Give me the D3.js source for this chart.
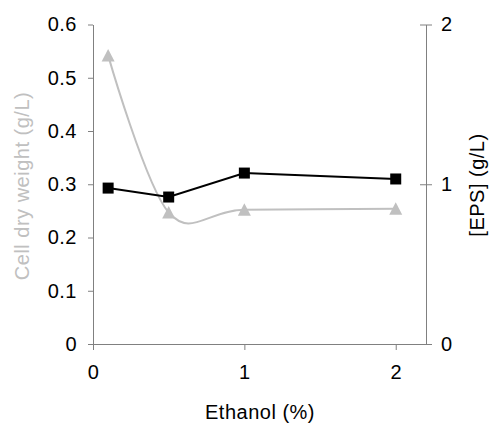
<!DOCTYPE html>
<html>
<head>
<meta charset="utf-8">
<script src="https://cdn.jsdelivr.net/npm/d3@7"></script>
<style>
    body { margin: 0; background: #fff; }
    svg { display: block; font-family: "Liberation Sans", Arial, sans-serif; }
</style>
</head>
<body>
<svg id="chart" width="490" height="426"></svg>
<script>
// ethanol concentration (%)
const ethanol = [0.1, 0.5, 1, 2];
// cell dry weight (g/L), left axis
const cellDryWeight = [0.542, 0.247, 0.252, 0.254];
// EPS concentration (g/L), right axis
const eps = [0.976, 0.92, 1.07, 1.033];

const xTicks = [0, 1, 2];
const yLeftTicks = [0, 0.1, 0.2, 0.3, 0.4, 0.5, 0.6];
const yRightTicks = [0, 1, 2];

const svg = d3.select('#chart');
const axisColor = '#808080';
const grey = '#c0c0c0';
const fontSize = '20px';
const spacing = '0.5px';

const x = d3.scaleLinear().domain([0, 2.2]).range([93, 426]);
const yLeft = d3.scaleLinear().domain([0, 0.6]).range([344, 24.5]);
const yRight = d3.scaleLinear().domain([0, 2]).range([344, 24.5]);

function styleAxis(g) {
    g.selectAll('path, line').attr('stroke', axisColor).attr('stroke-width', 1);
    g.selectAll('text')
        .attr('fill', '#000')
        .attr('font-size', fontSize)
        .attr('letter-spacing', spacing)
        .attr('font-family', '"Liberation Sans", Arial, sans-serif');
}

// bottom axis
svg.append('g')
    .attr('transform', 'translate(0,344)')
    .call(d3.axisBottom(x).tickValues(xTicks).tickFormat(d3.format('d'))
        .tickSizeInner(6).tickSizeOuter(0).tickPadding(15))
    .call(styleAxis);

// left axis
svg.append('g')
    .attr('transform', 'translate(93,0)')
    .call(d3.axisLeft(yLeft).tickValues(yLeftTicks).tickFormat(d => d === 0 ? '0' : d3.format('.1f')(d))
        .tickSizeInner(5).tickSizeOuter(0).tickPadding(11))
    .call(styleAxis);

// right axis, ticks cross the line
const rightAxis = svg.append('g')
    .attr('transform', 'translate(426,0)')
    .call(d3.axisRight(yRight).tickValues(yRightTicks).tickFormat(d3.format('d'))
        .tickSizeInner(6).tickSizeOuter(0).tickPadding(9))
    .call(styleAxis);
rightAxis.selectAll('.tick line').attr('x1', -6);

// cell dry weight: smoothed grey line with triangles
const cdwData = ethanol.map((e, i) => [e, cellDryWeight[i]]);
svg.append('path')
    .datum(cdwData)
    .attr('fill', 'none')
    .attr('stroke', grey)
    .attr('stroke-width', 2)
    .attr('d', d3.line()
        .x(d => x(d[0]))
        .y(d => yLeft(d[1]))
        .curve(d3.curveCardinal.tension(0)));

const tri = 'M0,-6.5L6.5,6L-6.5,6Z';
svg.selectAll('.tri')
    .data(cdwData)
    .join('path')
    .attr('class', 'tri')
    .attr('transform', d => `translate(${x(d[0])},${yLeft(d[1])})`)
    .attr('d', tri)
    .attr('fill', grey);

// EPS: straight black line with squares
const epsData = ethanol.map((e, i) => [e, eps[i]]);
svg.append('path')
    .datum(epsData)
    .attr('fill', 'none')
    .attr('stroke', '#000')
    .attr('stroke-width', 2)
    .attr('d', d3.line()
        .x(d => x(d[0]))
        .y(d => yRight(d[1])));

svg.selectAll('.sq')
    .data(epsData)
    .join('rect')
    .attr('class', 'sq')
    .attr('x', d => x(d[0]) - 5.5)
    .attr('y', d => yRight(d[1]) - 5.5)
    .attr('width', 11)
    .attr('height', 11)
    .attr('fill', '#000');

// axis titles
svg.append('text')
    .attr('x', 260)
    .attr('y', 419)
    .attr('text-anchor', 'middle')
    .attr('font-size', fontSize)
    .attr('letter-spacing', spacing)
    .text('Ethanol (%)');

svg.append('text')
    .attr('transform', 'translate(29,186) rotate(-90)')
    .attr('text-anchor', 'middle')
    .attr('font-size', fontSize)
    .attr('letter-spacing', spacing)
    .attr('fill', grey)
    .text('Cell dry weight (g/L)');

svg.append('text')
    .attr('transform', 'translate(484,185) rotate(-90)')
    .attr('text-anchor', 'middle')
    .attr('font-size', fontSize)
    .attr('letter-spacing', spacing)
    .attr('fill', '#000')
    .text('[EPS] (g/L)');
</script>
</body>
</html>
